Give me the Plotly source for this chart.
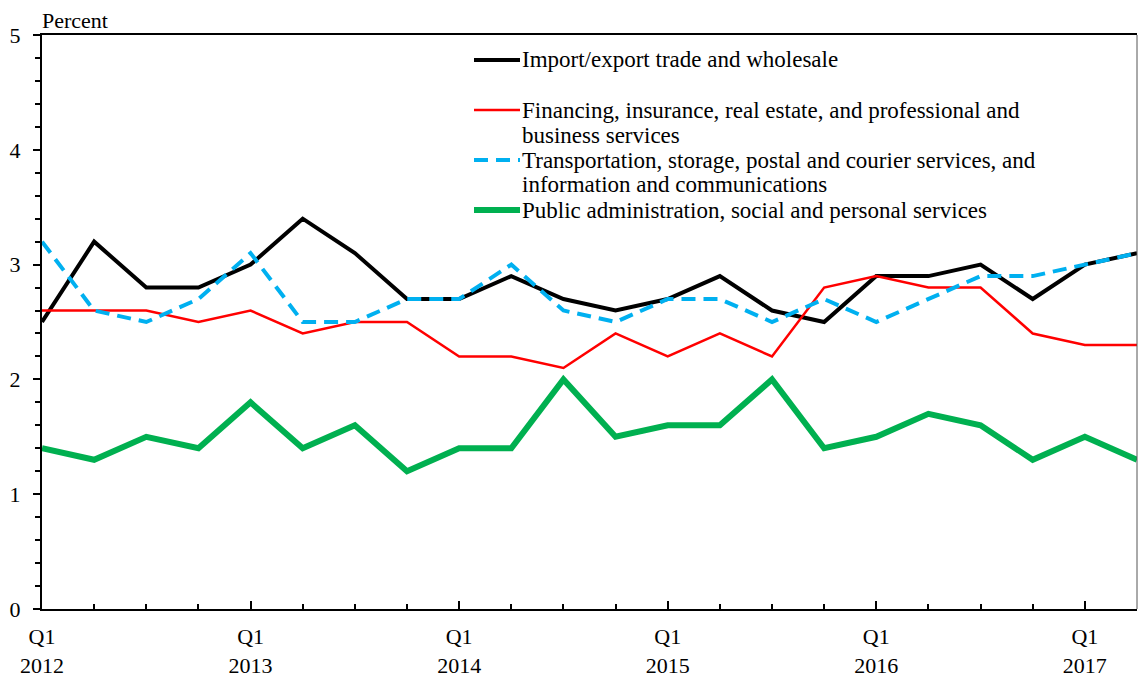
import plotly.graph_objects as go

# Quarterly series, Q1 2012 .. Q2 2017
quarters = [f"Q{q} {y}" for y in range(2012, 2018) for q in range(1, 5)][:22]

import_export = [2.5, 3.2, 2.8, 2.8, 3.0, 3.4, 3.1, 2.7, 2.7, 2.9, 2.7,
                 2.6, 2.7, 2.9, 2.6, 2.5, 2.9, 2.9, 3.0, 2.7, 3.0, 3.1]
financing = [2.6, 2.6, 2.6, 2.5, 2.6, 2.4, 2.5, 2.5, 2.2, 2.2, 2.1,
             2.4, 2.2, 2.4, 2.2, 2.8, 2.9, 2.8, 2.8, 2.4, 2.3, 2.3]
transport = [3.2, 2.6, 2.5, 2.7, 3.1, 2.5, 2.5, 2.7, 2.7, 3.0, 2.6,
             2.5, 2.7, 2.7, 2.5, 2.7, 2.5, 2.7, 2.9, 2.9, 3.0, 3.1]
public_admin = [1.4, 1.3, 1.5, 1.4, 1.8, 1.4, 1.6, 1.2, 1.4, 1.4, 2.0,
                1.5, 1.6, 1.6, 2.0, 1.4, 1.5, 1.7, 1.6, 1.3, 1.5, 1.3]

tick_idx = [0, 4, 8, 12, 16, 20]
tick_text = ["Q1<br>2012", "Q1<br>2013", "Q1<br>2014", "Q1<br>2015", "Q1<br>2016", "Q1<br>2017"]

series_names = [
    ["Import/export trade and wholesale"],
    ["Financing, insurance, real estate, and professional and", "business services"],
    ["Transportation, storage, postal and courier services, and", "information and communications"],
    ["Public administration, social and personal services"],
]
series_values = [import_export, financing, transport, public_admin]
series_lines = [
    dict(color="#000000", width=4),
    dict(color="#FF0000", width=2.5),
    dict(color="#00B0F0", width=4, dash="14px,8px"),
    dict(color="#00B050", width=6),
]

x = list(range(len(quarters)))
FONT = "Liberation Serif, Times New Roman, serif"

# plot-area geometry in pixels (used for the hand-built legend)
W, H = 1139, 680
ML, MR, MT, MB = 42, 2, 35, 71
PW, PH = W - ML - MR, H - MT - MB


def px_x(p):
    return (p - ML) / PW


def px_y(p):
    return (H - MB - p) / PH


fig = go.Figure()
for name, vals, ln in zip(series_names, series_values, series_lines):
    fig.add_trace(go.Scatter(x=x, y=vals, mode="lines", name=" ".join(name),
                             line=ln, showlegend=False))

# Legend: symbol line + one text row per line of the label
legend_rows = [60, 110, 160, 210]
row_gap = 25
shapes = []
annotations = []
for name, ln, y0 in zip(series_names, series_lines, legend_rows):
    shapes.append(dict(type="line", xref="paper", yref="paper",
                       x0=px_x(474), x1=px_x(520), y0=px_y(y0), y1=px_y(y0),
                       line=dict(color=ln["color"], width=ln["width"],
                                 dash=ln.get("dash", "solid"))))
    for i, part in enumerate(name):
        annotations.append(dict(text=part, xref="paper", yref="paper",
                                x=px_x(520), y=px_y(y0 + i * row_gap),
                                xanchor="left", yanchor="middle", showarrow=False,
                                font=dict(size=23, family=FONT, color="black")))

annotations.append(dict(text="Percent", xref="paper", yref="paper", x=0, y=1,
                        xanchor="left", yanchor="bottom", xshift=-2, yshift=0,
                        showarrow=False,
                        font=dict(size=22, family=FONT, color="black")))

# thin right-hand border
shapes.append(dict(type="line", xref="paper", yref="paper", x0=1, x1=1, y0=0, y1=1,
                   line=dict(color="#555555", width=1)))

fig.update_layout(
    width=W, height=H,
    margin=dict(l=ML, r=MR, t=MT, b=MB),
    paper_bgcolor="white", plot_bgcolor="white",
    font=dict(family=FONT, size=22, color="black"),
    showlegend=False,
    xaxis=dict(range=[0, 21], tickvals=tick_idx, ticktext=tick_text,
               showgrid=False, zeroline=False, showline=True, linecolor="black",
               linewidth=2, mirror=True, ticks="inside", ticklen=8, tickwidth=1.5,
               tickcolor="black", tickfont=dict(size=22, family=FONT),
               ticklabelstandoff=7,
               minor=dict(dtick=1, tick0=0, ticks="inside", ticklen=5,
                          tickwidth=1.5, tickcolor="black")),
    yaxis=dict(range=[0, 5], dtick=1, showgrid=False, zeroline=False,
               showline=True, linecolor="black", linewidth=2,
               ticks="outside", ticklen=7, tickwidth=1.5, tickcolor="black",
               tickfont=dict(size=22, family=FONT), ticklabelstandoff=8,
               minor=dict(dtick=0.2, ticks="outside", ticklen=5,
                          tickwidth=1.5, tickcolor="black")),
    annotations=annotations,
    shapes=shapes,
)

fig.write_html("out.html")
